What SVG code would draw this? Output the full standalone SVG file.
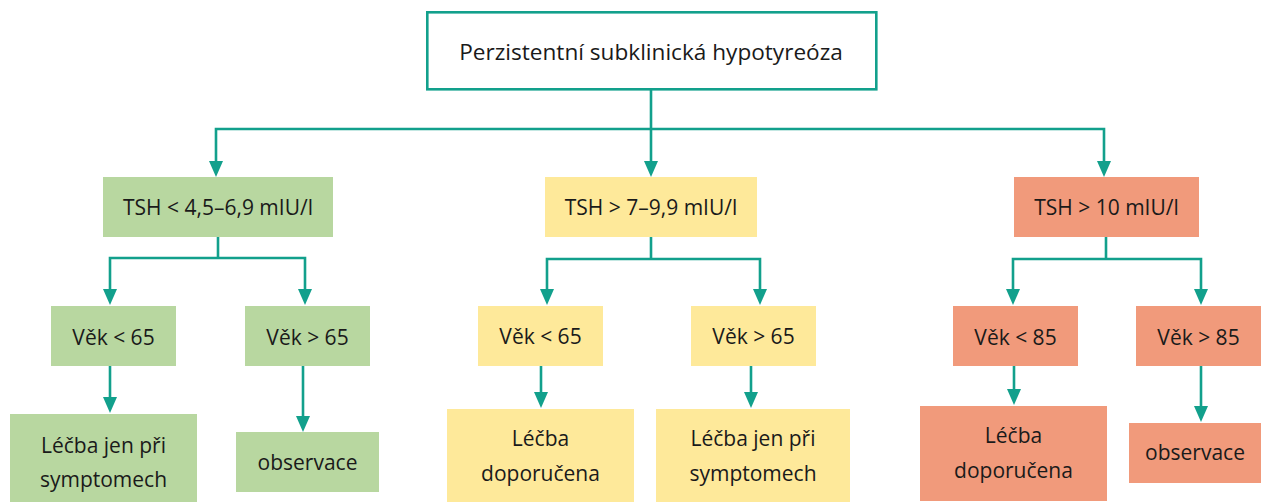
<svg xmlns="http://www.w3.org/2000/svg" width="1261" height="502" viewBox="0 0 1261 502">
  <defs>
    <style>
      .t { font-family: "Open Sans", "Noto Sans", "DejaVu Sans", sans-serif; font-size: 21px; fill: #1a1a1a; text-anchor: middle; }
      .big { font-size: 22.6px; }
      .g { fill: #b8d7a0; }
      .y { fill: #fee99a; }
      .s { fill: #f19a7b; }
      .c { fill: none; stroke: #12a08c; stroke-width: 2.6; }
    </style>
    <marker id="ah" viewBox="0 0 16 14" refX="8" refY="7" markerWidth="16" markerHeight="14" markerUnits="userSpaceOnUse" orient="auto-start-reverse">
      <path d="M0,0 L16,7 L0,14 z" fill="#12a08c"/>
    </marker>
  </defs>
  <rect width="1261" height="502" fill="#ffffff"/>

  <g id="connectors">
    <path class="c" d="M651,89 V169" marker-end="url(#ah)"/>
    <path class="c" d="M216,169 V129 H1104 V169" marker-start="url(#ah)" marker-end="url(#ah)"/>

    <path class="c" d="M218,237 V258"/>
    <path class="c" d="M110,297 V258 H305 V297" marker-start="url(#ah)" marker-end="url(#ah)"/>
    <path class="c" d="M110,366 V405" marker-end="url(#ah)"/>
    <path class="c" d="M303,366 V424" marker-end="url(#ah)"/>

    <path class="c" d="M651,237 V259"/>
    <path class="c" d="M547,297 V259 H760 V297" marker-start="url(#ah)" marker-end="url(#ah)"/>
    <path class="c" d="M541,366 V400" marker-end="url(#ah)"/>
    <path class="c" d="M751,366 V400" marker-end="url(#ah)"/>

    <path class="c" d="M1106,237 V259"/>
    <path class="c" d="M1013,297 V259 H1201 V297" marker-start="url(#ah)" marker-end="url(#ah)"/>
    <path class="c" d="M1014,366 V397" marker-end="url(#ah)"/>
    <path class="c" d="M1201,366 V414" marker-end="url(#ah)"/>
  </g>

  <g id="root">
    <rect x="427.3" y="12.3" width="449" height="77" fill="#ffffff" stroke="#12a08c" stroke-width="2.6"/>
    <text class="t big" x="651" y="60">Perzistentní subklinická hypotyreóza</text>
  </g>

  <g id="tsh-low">
    <rect class="g" x="103" y="177" width="230" height="60"/>
    <text class="t" x="218" y="215">TSH &lt; 4,5–6,9 mIU/l</text>
  </g>
  <g id="tsh-mid">
    <rect class="y" x="545" y="177" width="212" height="60"/>
    <text class="t" x="651" y="215">TSH &gt; 7–9,9 mIU/l</text>
  </g>
  <g id="tsh-high">
    <rect class="s" x="1014" y="177" width="185" height="60"/>
    <text class="t" x="1106.5" y="215">TSH &gt; 10 mIU/l</text>
  </g>

  <g id="g-age-lt65">
    <rect class="g" x="51" y="306" width="125" height="60"/>
    <text class="t" x="113.5" y="345">Věk &lt; 65</text>
  </g>
  <g id="g-age-gt65">
    <rect class="g" x="245" y="306" width="125" height="60"/>
    <text class="t" x="307.5" y="345">Věk &gt; 65</text>
  </g>
  <g id="y-age-lt65">
    <rect class="y" x="478" y="306" width="125" height="60"/>
    <text class="t" x="540.5" y="344">Věk &lt; 65</text>
  </g>
  <g id="y-age-gt65">
    <rect class="y" x="691" y="306" width="125" height="60"/>
    <text class="t" x="753.5" y="344">Věk &gt; 65</text>
  </g>
  <g id="s-age-lt85">
    <rect class="s" x="953" y="306" width="125" height="60"/>
    <text class="t" x="1015.5" y="345">Věk &lt; 85</text>
  </g>
  <g id="s-age-gt85">
    <rect class="s" x="1136" y="306" width="125" height="60"/>
    <text class="t" x="1198.5" y="345">Věk &gt; 85</text>
  </g>

  <g id="g-treat-symptoms">
    <rect class="g" x="10" y="414" width="187" height="88"/>
    <text class="t" x="103.5" y="453">Léčba jen při</text>
    <text class="t" x="103.5" y="487">symptomech</text>
  </g>
  <g id="g-observe">
    <rect class="g" x="236" y="432" width="143" height="60"/>
    <text class="t" x="307.5" y="470">observace</text>
  </g>
  <g id="y-treat-recommended">
    <rect class="y" x="447" y="409" width="187" height="93"/>
    <text class="t" x="540.5" y="446">Léčba</text>
    <text class="t" x="540.5" y="481">doporučena</text>
  </g>
  <g id="y-treat-symptoms">
    <rect class="y" x="656" y="409" width="194" height="93"/>
    <text class="t" x="753" y="446">Léčba jen při</text>
    <text class="t" x="753" y="481">symptomech</text>
  </g>
  <g id="s-treat-recommended">
    <rect class="s" x="920" y="406" width="187" height="95"/>
    <text class="t" x="1013.5" y="443">Léčba</text>
    <text class="t" x="1013.5" y="478">doporučena</text>
  </g>
  <g id="s-observe">
    <rect class="s" x="1129" y="423" width="132" height="60"/>
    <text class="t" x="1195" y="460">observace</text>
  </g>
</svg>
